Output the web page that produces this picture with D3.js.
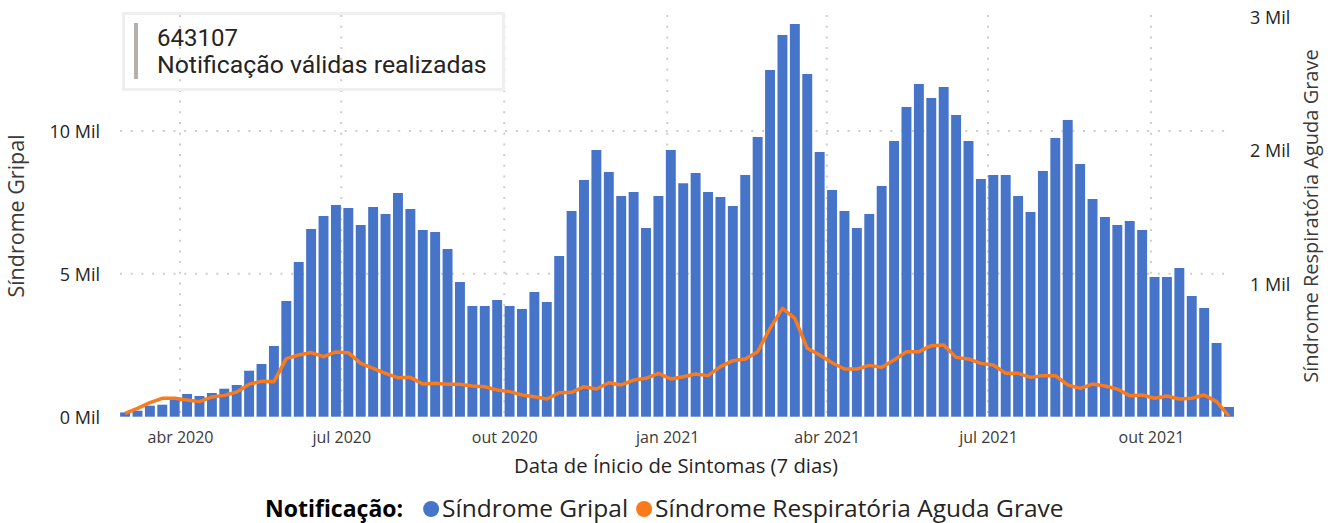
<!DOCTYPE html>
<html>
<head>
<meta charset="utf-8">
<script src="https://cdn.jsdelivr.net/npm/d3@7"></script>
<style>
  body { margin: 0; background: #fff; }
  text { font-family: "Open Sans", sans-serif; }
</style>
</head>
<body>
<div id="chart"></div>
<script>

// semanas epidemiológicas, a partir de 01/03/2020
var firstWeek = new Date(2020, 2, 1);

var sindromeGripal = [150, 210, 385, 420, 640, 795, 725, 830, 980, 1110,
  1610, 1845, 2475, 4050, 5415, 6570, 7025, 7410, 7305, 6710,
  7340, 7095, 7830, 7270, 6535, 6465, 5870, 4715, 3875, 3875,
  4085, 3875, 3770, 4365, 4015, 5625, 7200, 8285, 9335, 8565,
  7725, 7865, 6605, 7725, 9335, 8170, 8530, 7865, 7690, 7375,
  8460, 9790, 12135, 13360, 13745, 11995, 9265, 7935, 7200, 6605,
  7095, 8075, 9650, 10840, 11645, 11155, 11540, 10560, 9650, 8320,
  8460, 8460, 7725, 7165, 8600, 9755, 10385, 8845, 7620, 6990,
  6710, 6850, 6535, 4890, 4890, 5205, 4225, 3805, 2580, 340];

var srag = [25, 63, 105, 138, 138, 125, 113, 148, 160, 185,
  244, 265, 263, 436, 463, 481, 450, 486, 480, 400,
  363, 325, 293, 295, 245, 250, 243, 243, 230, 225,
  200, 188, 163, 150, 133, 180, 183, 225, 208, 255,
  238, 275, 288, 325, 283, 300, 320, 308, 375, 420,
  433, 488, 663, 813, 738, 513, 463, 405, 358, 358,
  385, 370, 425, 488, 488, 533, 538, 445, 433, 400,
  388, 325, 325, 295, 308, 308, 238, 213, 245, 230,
  208, 158, 163, 138, 155, 133, 138, 163, 113, 5];

var leftTicks = [0, 5000, 10000];
var rightTicks = [1000, 2000, 3000];
var mesesAbrev = ["jan", "fev", "mar", "abr", "mai", "jun", "jul", "ago", "set", "out", "nov", "dez"];

var cardValue = "643107";
var cardLabel = "Notificação válidas realizadas";
var legendTitle = "Notificação:";
var seriesNames = ["Síndrome Gripal", "Síndrome Respiratória Aguda Grave"];
var seriesColors = ["#4674c8", "#fb7a1c"];

function draw() {

  var width = 1339, height = 523;
  var top = 16.7, bottom = 416.7, left = 120, right = 1235;

  var ptBR = d3.timeFormatLocale({
    dateTime: "%d/%m/%Y %H:%M:%S", date: "%d/%m/%Y", time: "%H:%M:%S",
    periods: ["AM", "PM"],
    days: ["domingo", "segunda", "terça", "quarta", "quinta", "sexta", "sábado"],
    shortDays: ["dom", "seg", "ter", "qua", "qui", "sex", "sáb"],
    months: ["janeiro", "fevereiro", "março", "abril", "maio", "junho", "julho", "agosto", "setembro", "outubro", "novembro", "dezembro"],
    shortMonths: mesesAbrev
  });

  var weeks = sindromeGripal.map(function(d, i) { return d3.timeDay.offset(firstWeek, i * 7); });

  var data = weeks.map(function(w, i) {
    return { date: w, gs: sindromeGripal[i], srag: srag[i] };
  });

  var x = d3.scaleTime()
    .domain([new Date(2020, 3, 1), new Date(2021, 9, 1)])
    .range([180, 1151]);

  var barW = (x(d3.timeDay.offset(firstWeek, 7)) - x(firstWeek)) * 0.8;

  var y = d3.scaleLinear().domain([0, 14000]).range([bottom, top]);
  var y2 = d3.scaleLinear().domain([0, 3000]).range([bottom, top]);

  var svg = d3.select("#chart")
    .append("svg")
    .attr("width", width)
    .attr("height", height);

  var monthTicks = d3.timeMonth.every(3).range(x.invert(left), x.invert(right));

  // grades pontilhadas
  var grid = svg.append("g")
    .attr("stroke", "#cfcdcb")
    .attr("stroke-width", 2)
    .attr("stroke-dasharray", "2,8.7");

  grid.selectAll(".vgrid")
    .data(monthTicks)
    .enter().append("line")
    .attr("class", "vgrid")
    .attr("x1", function(d) { return x(d); })
    .attr("x2", function(d) { return x(d); })
    .attr("y1", 15)
    .attr("y2", bottom);

  grid.selectAll(".hgrid")
    .data(leftTicks.filter(function(d) { return d > 0; }))
    .enter().append("line")
    .attr("class", "hgrid")
    .attr("x1", left)
    .attr("x2", 1228)
    .attr("y1", function(d) { return y(d); })
    .attr("y2", function(d) { return y(d); });

  // card
  svg.append("rect")
    .attr("x", 123.5).attr("y", 13.5)
    .attr("width", 380).attr("height", 76)
    .attr("fill", "none")
    .attr("stroke", "#efefef")
    .attr("stroke-width", 3);

  svg.append("rect")
    .attr("x", 134).attr("y", 23)
    .attr("width", 4).attr("height", 56)
    .attr("fill", "#b3b0ad");

  svg.append("text")
    .attr("x", 157).attr("y", 46)
    .style("font-family", "Roboto, sans-serif")
    .style("font-size", "24px")
    .attr("fill", "#252423")
    .text(cardValue);

  svg.append("text")
    .attr("x", 157).attr("y", 73)
    .style("font-family", "Roboto, sans-serif")
    .style("font-size", "24.8px")
    .attr("fill", "#252423")
    .text(cardLabel);

  // barras
  svg.append("g")
    .selectAll("rect")
    .data(data)
    .enter().append("rect")
    .attr("x", function(d) { return x(d.date) - barW / 2; })
    .attr("y", function(d) { return y(d.gs); })
    .attr("width", barW)
    .attr("height", function(d) { return y(0) - y(d.gs); })
    .attr("fill", seriesColors[0]);

  var line = d3.line()
    .x(function(d) { return x(d.date); })
    .y(function(d) { return y2(d.srag); });

  svg.append("path")
    .datum(data)
    .attr("d", line)
    .attr("fill", "none")
    .attr("stroke", seriesColors[1])
    .attr("stroke-width", 3.5)
    .attr("stroke-linejoin", "round");

  // eixos
  var milFmt = function(d) { return (d / 1000) + " Mil"; };

  var yAxis = svg.append("g")
    .attr("transform", "translate(100,0)")
    .call(d3.axisLeft(y).tickValues(leftTicks).tickFormat(milFmt).tickSize(0).tickPadding(0));

  var yAxis2 = svg.append("g")
    .attr("transform", "translate(1250,0)")
    .call(d3.axisRight(y2).tickValues(rightTicks).tickFormat(milFmt).tickSize(0).tickPadding(0));

  var xAxis = svg.append("g")
    .attr("transform", "translate(0," + bottom + ")")
    .call(d3.axisBottom(x).tickValues(monthTicks).tickFormat(ptBR.format("%b %Y")).tickSize(0).tickPadding(0));

  [yAxis, yAxis2, xAxis].forEach(function(a) {
    a.select(".domain").remove();
    a.selectAll("text").style("font-family", "\"Open Sans\", sans-serif");
  });

  yAxis.selectAll("text").style("font-size", "18px").attr("fill", "#252423").attr("dy", "0.38em");
  yAxis2.selectAll("text").style("font-size", "18px").attr("fill", "#252423").attr("dy", "0.38em");
  xAxis.selectAll("text").style("font-size", "16px").attr("fill", "#3b3a39").attr("dy", 0).attr("y", 26.5);

  svg.append("text")
    .attr("transform", "translate(24,216) rotate(-90)")
    .attr("text-anchor", "middle")
    .style("font-size", "21.5px")
    .attr("fill", "#3b3a39")
    .text(seriesNames[0]);

  svg.append("text")
    .attr("transform", "translate(1318,216) rotate(-90)")
    .attr("text-anchor", "middle")
    .style("font-size", "20px")
    .attr("fill", "#3b3a39")
    .text(seriesNames[1]);

  svg.append("text")
    .attr("x", 676).attr("y", 473)
    .attr("text-anchor", "middle")
    .style("font-size", "20.3px")
    .attr("fill", "#252423")
    .text("Data de Ínicio de Sintomas (7 dias)");

  // legenda
  var leg = svg.append("g").attr("transform", "translate(265,517)");

  var title = leg.append("text")
    .style("font-size", "23px")
    .style("font-weight", "bold")
    .attr("fill", "#000")
    .text(legendTitle);

  var cx = title.node().getComputedTextLength() + 28;

  seriesNames.forEach(function(name, i) {
    leg.append("circle")
      .attr("cx", cx)
      .attr("cy", -8)
      .attr("r", 8)
      .attr("fill", seriesColors[i]);
    var t = leg.append("text")
      .attr("x", cx + 11)
      .style("font-size", "24.5px")
      .attr("fill", "#252423")
      .text(name);
    cx += 11 + t.node().getComputedTextLength() + 16;
  });
}

draw();

</script>
</body>
</html>
